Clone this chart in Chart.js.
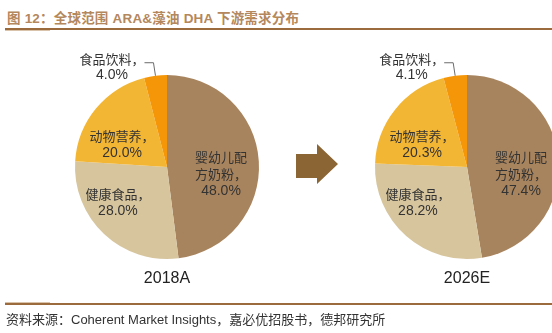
<!DOCTYPE html>
<html>
<head>
<meta charset="utf-8">
<script src="https://cdn.jsdelivr.net/npm/chart.js@4"></script>
<style>
  html, body { margin: 0; padding: 0; background: #fff; }
  body { width: 552px; height: 333px; position: relative; overflow: hidden;
         font-family: "Liberation Sans", "Noto Sans CJK SC", sans-serif; }
  .title { position: absolute; left: 7px; top: 7px; font-size: 13.5px; font-weight: bold;
           color: #B4875C; white-space: nowrap; letter-spacing: 0.2px; }
  .rule { position: absolute; left: 5px; right: 0; height: 2px; background: #9B6B3E; }
  .rule-lite { position: absolute; left: 5px; width: 45px; height: 1px; background: #D9C3AA; }
  .source { position: absolute; left: 6px; top: 309px; font-size: 13px; color: #333; white-space: nowrap; }
  .year { position: absolute; top: 269px; width: 100px; text-align: center; font-size: 16px; color: #222; }
  canvas { position: absolute; }
  svg { position: absolute; left: 0; top: 0; }
</style>
</head>
<body>
<div class="title">图 12：全球范围 ARA&amp;藻油 DHA 下游需求分布</div>
<div class="rule" style="top:28px"></div>
<div class="rule-lite" style="top:30px"></div>

<canvas id="pieA" width="260" height="260" style="left:37px; top:37px"></canvas>
<canvas id="pieB" width="260" height="260" style="left:337px; top:37px"></canvas>

<svg width="552" height="333">
  <polygon points="296,154 317,154 317,144 338,164 317,184 317,178 296,178" fill="#8C6534"/>
</svg>

<div class="year" id="yearA" style="left:117px"></div>
<div class="year" id="yearB" style="left:417px"></div>

<div class="rule-lite" style="top:302px"></div>
<div class="rule" style="top:303px; height:1.5px"></div>
<div class="source">资料来源：Coherent Market Insights，嘉必优招股书，德邦研究所</div>

<script>
// Downstream demand split for ARA & algal DHA (%)
const categories = ['婴幼儿配方奶粉', '健康食品', '动物营养', '食品饮料'];
const share2018A = [48.0, 28.0, 20.0, 4.0];
const share2026E = [47.4, 28.2, 20.3, 4.1];
const periods = ['2018A', '2026E'];

const sliceColors = ['#A8845E', '#D7C59E', '#F3B634', '#F59608'];

// Label block centres for the inner labels, in units of the pie radius
const innerAnchors = [[0.587, 0.076], [-0.533, 0.391], [-0.489, -0.239]];

const cjkFont = '13px "Noto Sans CJK SC", sans-serif';
const numFont = '14px "Liberation Sans", "Noto Sans CJK SC", sans-serif';
const lineStep = 17;

function splitName(name) {
  const parts = [];
  for (let i = 0; i < name.length; i += 4) parts.push(name.slice(i, i + 4));
  parts[parts.length - 1] += '，';
  return parts;
}

const sliceLabels = {
  id: 'sliceLabels',
  afterDatasetsDraw(chart) {
    const ctx = chart.ctx;
    const meta = chart.getDatasetMeta(0);
    const values = chart.data.datasets[0].data;
    ctx.save();
    ctx.fillStyle = '#333';
    ctx.textAlign = 'center';
    ctx.textBaseline = 'middle';
    meta.data.forEach((arc, i) => {
      const p = arc.getProps(['x', 'y', 'startAngle', 'endAngle', 'outerRadius'], true);
      const lines = splitName(chart.data.labels[i]);
      const valueText = values[i].toFixed(1) + '%';
      if (i < innerAnchors.length) {
        const cx = p.x + innerAnchors[i][0] * p.outerRadius;
        const cy = p.y + innerAnchors[i][1] * p.outerRadius;
        const all = lines.concat([valueText]);
        const top = cy - (all.length - 1) * lineStep / 2;
        all.forEach((t, k) => {
          ctx.font = k === all.length - 1 ? numFont : cjkFont;
          ctx.fillText(t, cx, top + k * lineStep);
        });
      } else {
        // small slice: label outside with an elbow leader line
        const mid = (p.startAngle + p.endAngle) / 2;
        const ex = p.x + Math.cos(mid) * p.outerRadius;
        const ey = p.y + Math.sin(mid) * p.outerRadius;
        ctx.strokeStyle = '#6b6b6b';
        ctx.lineWidth = 1;
        ctx.beginPath();
        ctx.moveTo(ex, ey);
        ctx.lineTo(ex - 2, ey - 13);
        ctx.lineTo(ex - 11, ey - 13);
        ctx.stroke();
        const tx = ex - 43.5;
        ctx.font = cjkFont;
        ctx.fillText(lines[0], tx, ey - 16.5);
        ctx.font = numFont;
        ctx.fillText(valueText, tx, ey - 0.5);
      }
    });
    ctx.restore();
  }
};

function makePie(id, values) {
  return new Chart(document.getElementById(id), {
    type: 'pie',
    data: {
      labels: categories,
      datasets: [{
        data: values,
        backgroundColor: sliceColors,
        borderWidth: 0,
        radius: 92
      }]
    },
    options: {
      responsive: false,
      animation: false,
      layout: { padding: 0 },
      plugins: { legend: { display: false }, tooltip: { enabled: false } }
    },
    plugins: [sliceLabels]
  });
}

makePie('pieA', share2018A);
makePie('pieB', share2026E);
document.getElementById('yearA').textContent = periods[0];
document.getElementById('yearB').textContent = periods[1];
</script>
</body>
</html>
